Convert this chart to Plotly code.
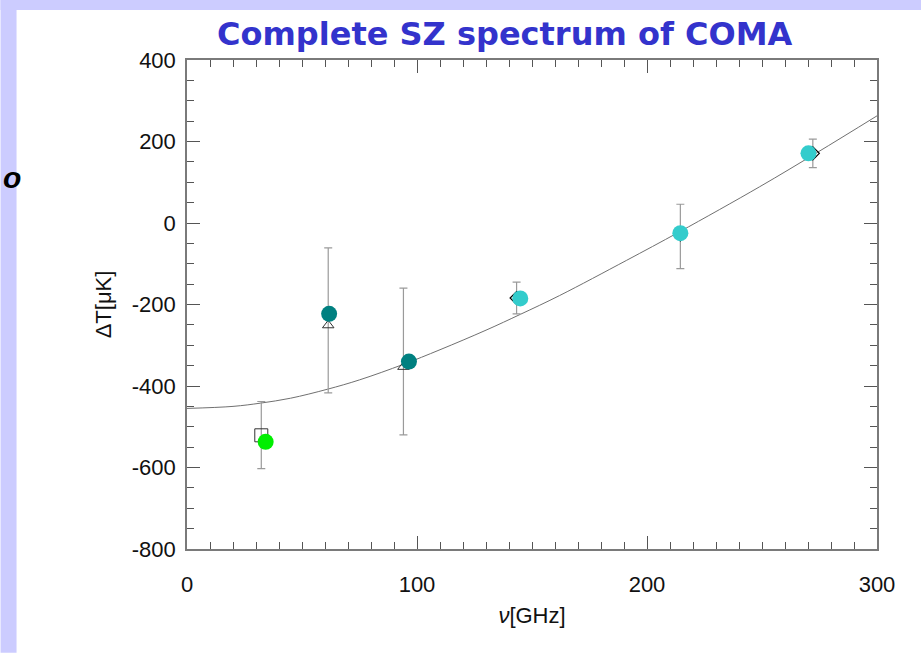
import plotly.graph_objects as go

# ---------------- data ----------------
# theoretical SZ spectrum curve
curve_nu = [0, 20, 32, 45, 61, 75, 94, 110, 130, 145, 162, 191, 214, 249, 274, 300]
curve_dT = [-455, -450, -442, -430, -408, -385, -347, -311, -263, -224, -178, -92, -22, 89, 173, 263]

# OVRO (open square)
ovro_nu = [32.3]
ovro_dT = [-521]
ovro_plus = [83]
ovro_minus = [82]

# WMAP (open triangles)
wmap_nu = [61.4, 94.1]
wmap_dT = [-251, -353]
wmap_plus = [190, 193]
wmap_minus = [166, 167]

# MITO (open diamonds)
mito_nu = [143.3, 214.5, 272.1]
mito_dT = [-184, -28, 171]
mito_plus = [39, 74, 35]
mito_minus = [39, 84, 35]

# corrected points (filled circles)
corr_nu = [34.2, 61.8, 96.5, 144.9, 214.5, 270.2]
corr_dT = [-537, -223, -340, -185, -25, 171]
corr_colors = ["#00ee00", "#008080", "#008080", "#33cccc", "#33cccc", "#33cccc"]

# axis ticks
x_tickvals = [0, 100, 200, 300]
x_ticktext = ["0", "100", "200", "300"]
y_tickvals = [-800, -600, -400, -200, 0, 200, 400]
y_ticktext = ["-800", "-600", "-400", "-200", "0", "200", "400"]

# ---------------- figure ----------------
W, H = 921, 653
ML, MR, MT, MB = 186.5, 44.3, 60, 103.7
PW, PH = W - ML - MR, H - MT - MB

def px_x(p):
    return (p - ML) / PW

def px_y(p):
    return (H - MB - p) / PH

ERR_COLOR = "#9a9a9a"
SYM_COLOR = "#333333"
FONT = "Liberation Sans, Arial, Helvetica, sans-serif"

fig = go.Figure()

fig.add_trace(go.Scatter(
    x=curve_nu, y=curve_dT, mode="lines",
    line=dict(color="#707070", width=1, shape="spline", smoothing=1.0),
    hoverinfo="skip", showlegend=False))

fig.add_trace(go.Scatter(
    x=ovro_nu, y=ovro_dT, mode="markers",
    marker=dict(symbol="square-open", size=13, color=SYM_COLOR, line=dict(width=1)),
    error_y=dict(type="data", symmetric=False, array=ovro_plus, arrayminus=ovro_minus,
                 color=ERR_COLOR, thickness=1.2, width=4),
    showlegend=False))

fig.add_trace(go.Scatter(
    x=wmap_nu, y=wmap_dT, mode="markers",
    marker=dict(symbol="triangle-up-open", size=10, color=SYM_COLOR, line=dict(width=1)),
    error_y=dict(type="data", symmetric=False, array=wmap_plus, arrayminus=wmap_minus,
                 color=ERR_COLOR, thickness=1.2, width=4),
    showlegend=False))

fig.add_trace(go.Scatter(
    x=mito_nu, y=mito_dT, mode="markers",
    marker=dict(symbol="diamond-open", size=10, color="#000000", line=dict(width=1.2)),
    error_y=dict(type="data", symmetric=False, array=mito_plus, arrayminus=mito_minus,
                 color=ERR_COLOR, thickness=1.2, width=4),
    showlegend=False))

fig.add_trace(go.Scatter(
    x=corr_nu, y=corr_dT, mode="markers",
    marker=dict(symbol="circle", size=16, color=corr_colors, line=dict(width=0)),
    showlegend=False))

axis_common = dict(
    showgrid=False, zeroline=False, showline=True, linecolor="#7a7a7a", linewidth=1.5,
    mirror="ticks", ticks="inside", tickcolor="#555555", tickwidth=1, ticklen=13,
    tickfont=dict(family=FONT, size=22, color="#111111"),
    tickmode="array",
)

fig.update_xaxes(
    **axis_common, range=[0, 300], tickvals=x_tickvals, ticktext=x_ticktext,
    minor=dict(dtick=10, tick0=0, ticks="inside", ticklen=7, tickcolor="#555555", tickwidth=1),
    ticklabelstandoff=15,
    title=dict(text="<i>ν</i>[GHz]", standoff=11,
               font=dict(family=FONT, size=22, color="#111111")),
)
fig.update_yaxes(
    **axis_common, range=[-800, 400], tickvals=y_tickvals, ticktext=y_ticktext,
    minor=dict(dtick=50, tick0=0, ticks="inside", ticklen=7, tickcolor="#555555", tickwidth=1),
    ticklabelstandoff=5,
    title=dict(text="ΔT[μK]", standoff=14,
               font=dict(family=FONT, size=22, color="#111111")),
)

LAV = "#ccccff"
fig.update_layout(
    width=W, height=H,
    margin=dict(l=ML, r=MR, t=MT, b=MB, autoexpand=False),
    paper_bgcolor="white", plot_bgcolor="white",
    shapes=[
        dict(type="rect", xref="paper", yref="paper", layer="below",
             x0=px_x(0), x1=px_x(16), y0=px_y(H), y1=px_y(0),
             fillcolor=LAV, line=dict(width=0)),
        dict(type="rect", xref="paper", yref="paper", layer="below",
             x0=px_x(0), x1=px_x(W), y0=px_y(10), y1=px_y(0),
             fillcolor=LAV, line=dict(width=0)),
    ],
    annotations=[
        dict(text="<b>Complete SZ spectrum of COMA</b>", xref="paper", yref="paper",
             x=px_x(504), y=px_y(34), xanchor="center", yanchor="middle", showarrow=False,
             font=dict(family="Comic Sans MS, DejaVu Sans, sans-serif", size=32, color="#3333cc")),
        dict(text="<b><i>o</i></b>", xref="paper", yref="paper",
             x=px_x(0), y=px_y(178), xanchor="left", yanchor="middle", showarrow=False,
             font=dict(family=FONT, size=30, color="#000000")),
    ],
)

fig.write_html("out.html")
